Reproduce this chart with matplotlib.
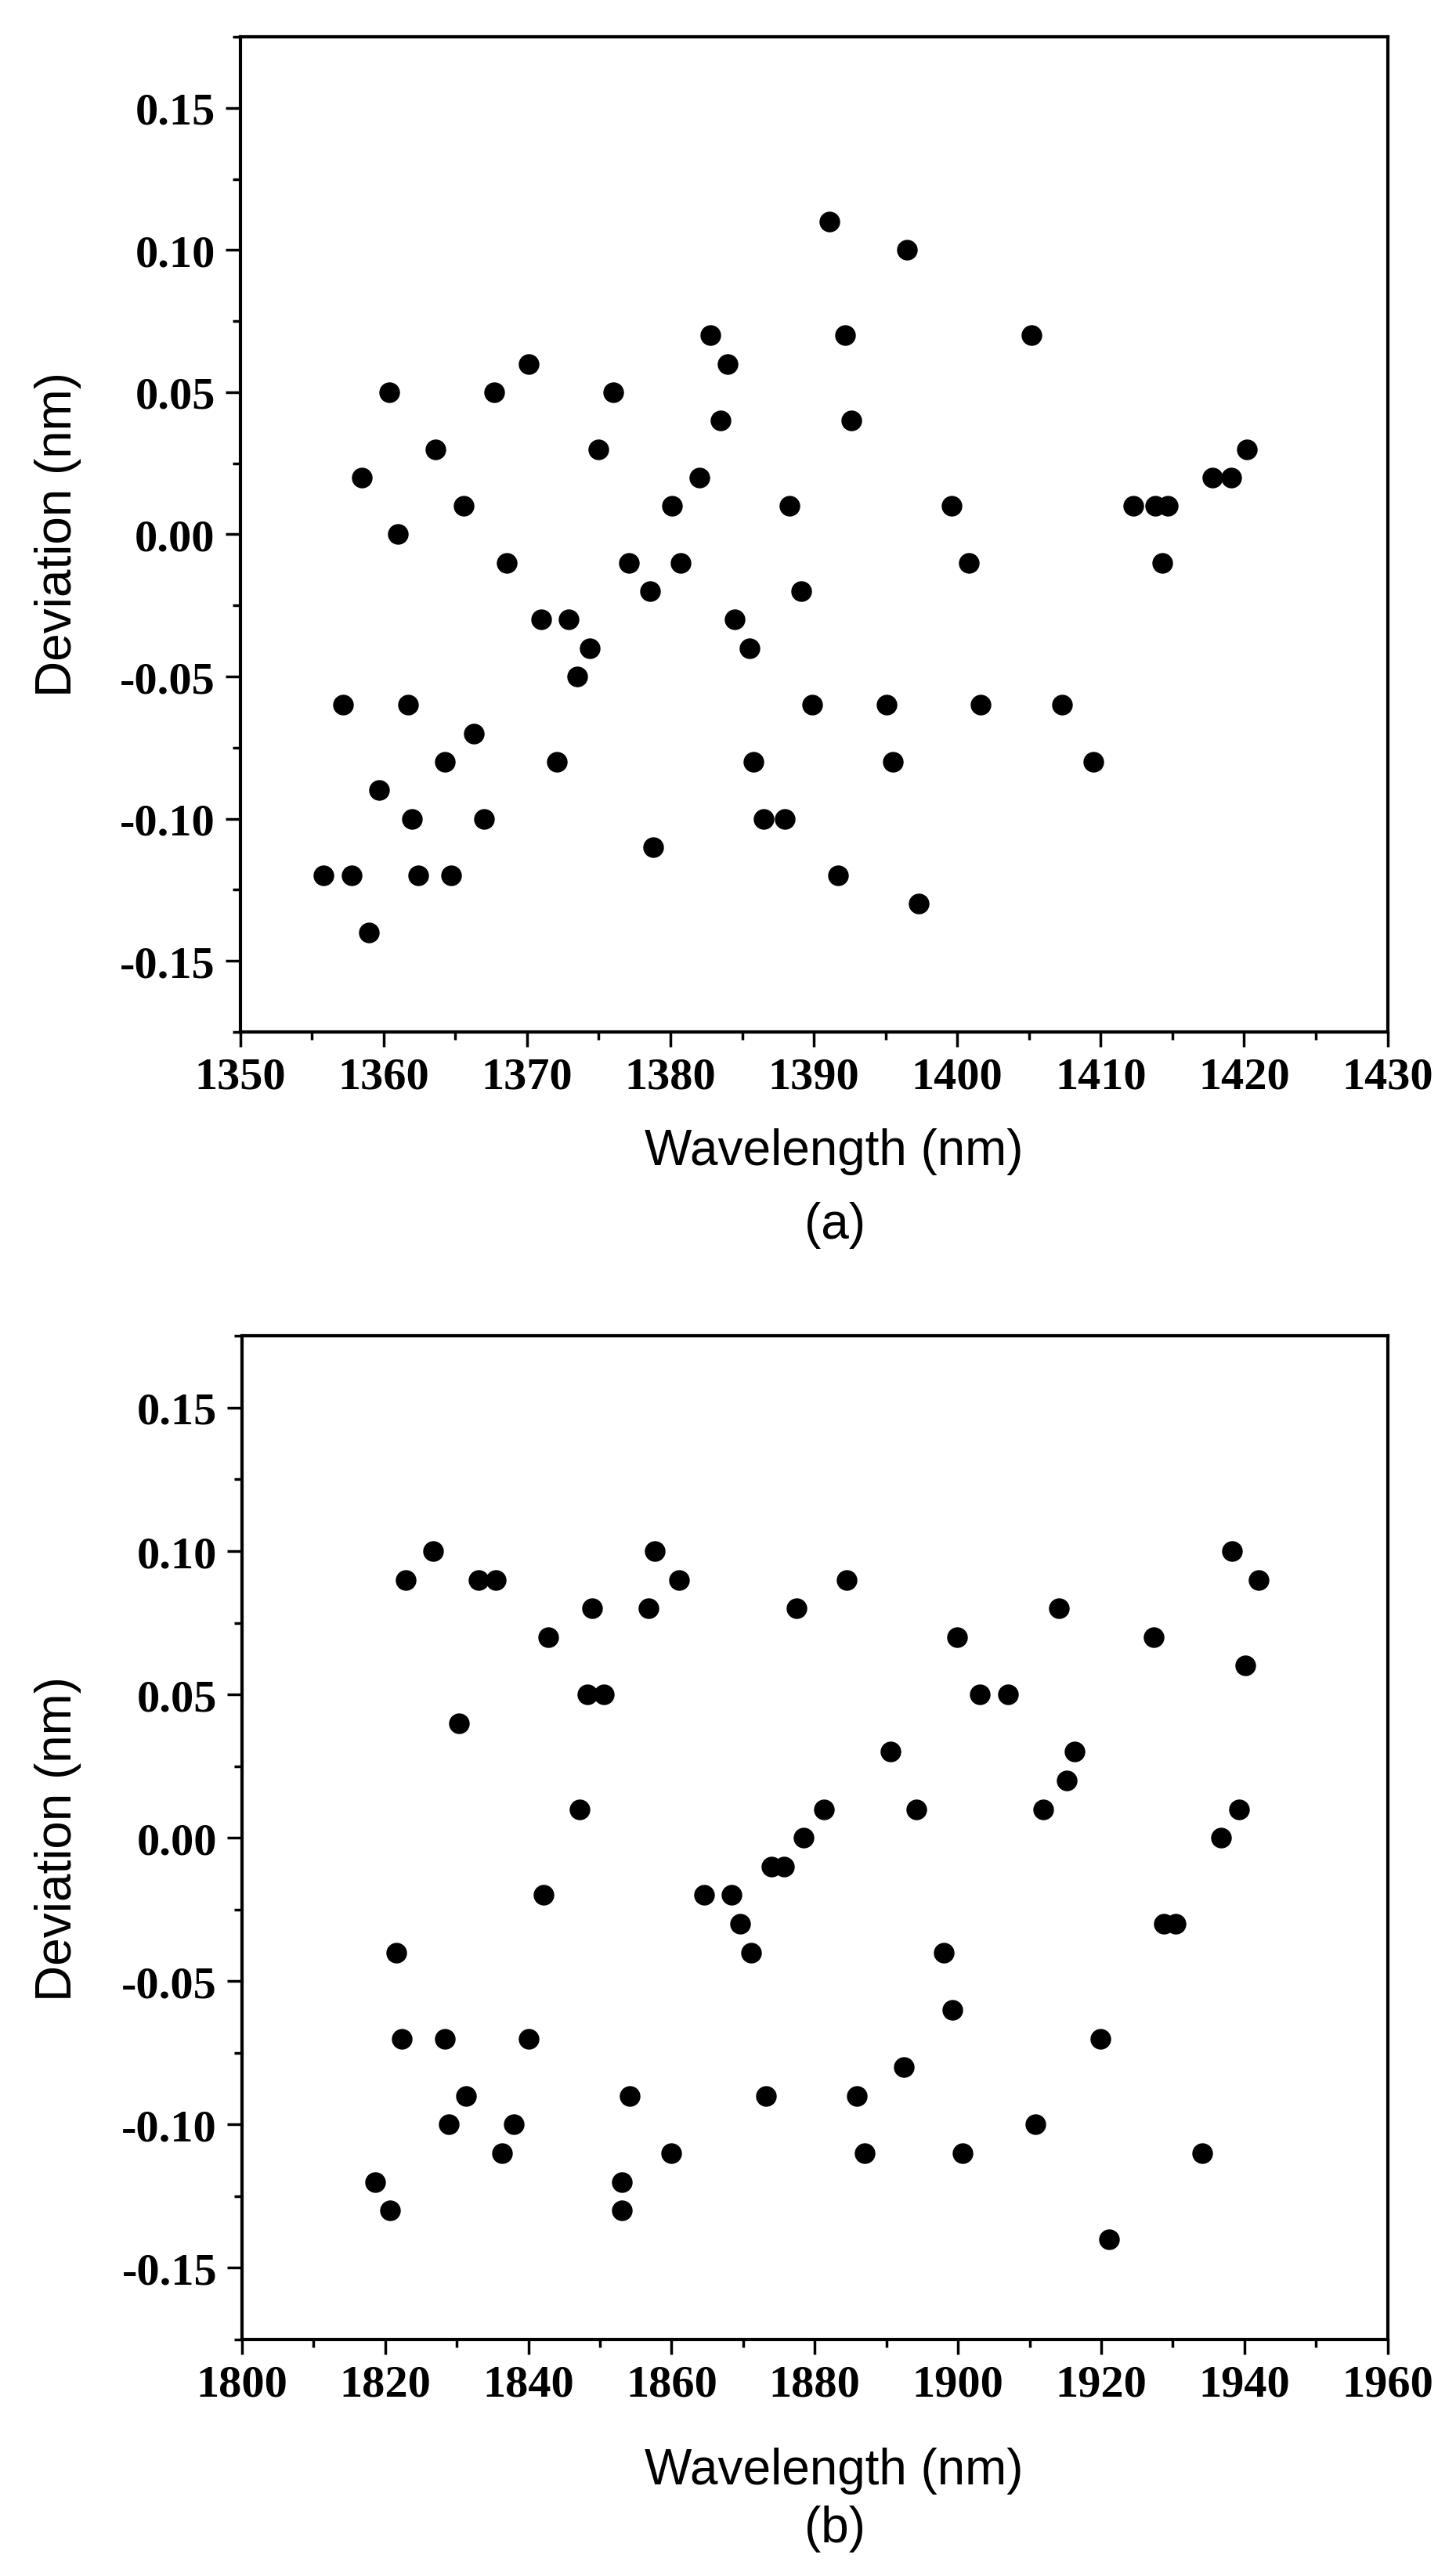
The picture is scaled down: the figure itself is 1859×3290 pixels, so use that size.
import matplotlib
matplotlib.use('Agg')
import matplotlib.pyplot as plt
from matplotlib.ticker import MultipleLocator, FormatStrFormatter

# panel (a): wavelength (nm) and deviation (nm)
wl_a = [1355.8, 1357.2, 1357.8, 1358.5, 1359.0, 1359.7, 1360.4, 1361.0, 1361.7, 1362.0,
        1362.4, 1363.6, 1364.3, 1364.7, 1365.6, 1366.3, 1367.0, 1367.7, 1368.6, 1370.1,
        1371.0, 1372.1, 1372.9, 1373.5, 1374.4, 1375.0, 1376.0, 1377.1, 1378.6, 1378.8,
        1380.1, 1380.7, 1382.0, 1382.8, 1383.5, 1384.0, 1384.5, 1385.5, 1385.8, 1386.5,
        1388.0, 1388.3, 1389.1, 1389.9, 1391.1, 1391.7, 1392.2, 1392.6, 1395.1, 1395.5,
        1396.5, 1397.3, 1399.6, 1400.8, 1401.6, 1405.2, 1407.3, 1409.5, 1412.3, 1413.8,
        1414.3, 1414.7, 1417.8, 1419.1, 1420.2]
dev_a = [-0.12, -0.06, -0.12, 0.02, -0.14, -0.09, 0.05, 0.00, -0.06, -0.10,
         -0.12, 0.03, -0.08, -0.12, 0.01, -0.07, -0.10, 0.05, -0.01, 0.06,
         -0.03, -0.08, -0.03, -0.05, -0.04, 0.03, 0.05, -0.01, -0.02, -0.11,
         0.01, -0.01, 0.02, 0.07, 0.04, 0.06, -0.03, -0.04, -0.08, -0.10,
         -0.10, 0.01, -0.02, -0.06, 0.11, -0.12, 0.07, 0.04, -0.06, -0.08,
         0.10, -0.13, 0.01, -0.01, -0.06, 0.07, -0.06, -0.08, 0.01, 0.01,
         -0.01, 0.01, 0.02, 0.02, 0.03]

# panel (b)
wl_b = [1818.6, 1820.7, 1821.5, 1822.3, 1822.9, 1826.7, 1828.3, 1828.9, 1830.3, 1831.3,
        1833.0, 1835.4, 1836.3, 1838.0, 1840.0, 1842.1, 1842.8, 1847.2, 1848.2, 1848.9,
        1850.5, 1853.1, 1853.1, 1854.1, 1856.8, 1857.7, 1859.9, 1861.0, 1864.5, 1868.4,
        1869.6, 1871.1, 1873.2, 1874.0, 1875.7, 1877.4, 1878.4, 1881.3, 1884.5, 1885.9,
        1887.0, 1890.6, 1892.4, 1894.2, 1898.0, 1899.2, 1899.9, 1900.6, 1903.1, 1907.0,
        1910.8, 1911.9, 1914.1, 1915.2, 1916.3, 1919.9, 1921.1, 1927.3, 1928.8, 1930.4,
        1934.1, 1936.7, 1938.3, 1939.3, 1940.1, 1942.0]
dev_b = [-0.12, -0.13, -0.04, -0.07, 0.09, 0.10, -0.07, -0.10, 0.04, -0.09,
         0.09, 0.09, -0.11, -0.10, -0.07, -0.02, 0.07, 0.01, 0.05, 0.08,
         0.05, -0.12, -0.13, -0.09, 0.08, 0.10, -0.11, 0.09, -0.02, -0.02,
         -0.03, -0.04, -0.09, -0.01, -0.01, 0.08, 0.00, 0.01, 0.09, -0.09,
         -0.11, 0.03, -0.08, 0.01, -0.04, -0.06, 0.07, -0.11, 0.05, 0.05,
         -0.10, 0.01, 0.08, 0.02, 0.03, -0.07, -0.14, 0.07, -0.03, -0.03,
         -0.11, 0.00, 0.10, 0.01, 0.06, 0.09]

W, H = 1859, 3291
fig = plt.figure(figsize=(W / 100, H / 100), dpi=100)

label_font = {'family': 'Liberation Sans', 'size': 46}


def setup(ax, xlim, xmajor, xminor):
    ax.set_xlim(*xlim)
    ax.set_ylim(-0.175, 0.175)
    ax.xaxis.set_major_locator(MultipleLocator(xmajor))
    ax.xaxis.set_minor_locator(MultipleLocator(xminor))
    ax.yaxis.set_major_locator(MultipleLocator(0.05))
    ax.yaxis.set_minor_locator(MultipleLocator(0.025))
    ax.yaxis.set_major_formatter(FormatStrFormatter('%.2f'))
    ax.xaxis.set_major_formatter(FormatStrFormatter('%d'))
    for s in ax.spines.values():
        s.set_linewidth(3)
    ax.tick_params(which='major', direction='out', length=14, width=2.5, pad=9)
    ax.tick_params(which='minor', direction='out', length=7, width=2.5)
    for lab in ax.get_xticklabels() + ax.get_yticklabels():
        lab.set_fontfamily('Liberation Serif')
        lab.set_fontweight('bold')
        lab.set_fontsize(42)


# top panel
ax1 = fig.add_axes([306.6 / W, 1 - 1318.9 / H, (1771.6 - 306.6) / W, (1318.9 - 48) / H])
ax1.plot(wl_a, dev_a, 'o', color='black', markersize=18, linestyle='none')
setup(ax1, (1350, 1430), 10, 5)

# bottom panel
ax2 = fig.add_axes([309 / W, 1 - 2989 / H, (1771.6 - 309) / W, (2989 - 1707.4) / H])
ax2.plot(wl_b, dev_b, 'o', color='black', markersize=18, linestyle='none')
setup(ax2, (1800, 1960), 20, 10)

# axis labels and panel tags
fig.text(74 / W, 1 - 683 / H, 'Deviation (nm)', rotation=90, ha='center', va='center', **label_font)
fig.text(74 / W, 1 - 2348 / H, 'Deviation (nm)', rotation=90, ha='center', va='center', **label_font)
fig.text(1065 / W, 1 - 1488 / H, 'Wavelength (nm)', ha='center', va='baseline', **label_font)
fig.text(1066 / W, 1 - 1582 / H, '(a)', ha='center', va='baseline', **label_font)
fig.text(1065 / W, 1 - 3173 / H, 'Wavelength (nm)', ha='center', va='baseline', **label_font)
fig.text(1066 / W, 1 - 3247 / H, '(b)', ha='center', va='baseline', **label_font)

fig.savefig('out.png', dpi=100)
